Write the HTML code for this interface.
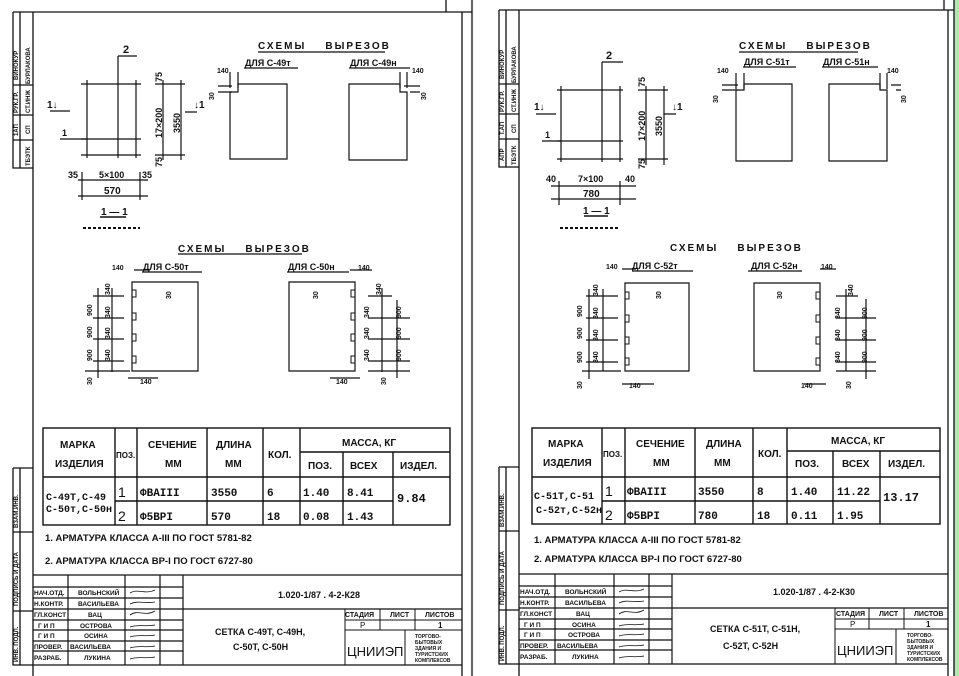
<!DOCTYPE html>
<html><head><meta charset="utf-8"><style>
body{margin:0;background:#fff}
svg{display:block}
text{font-family:"Liberation Sans",sans-serif;fill:#111}
.b{font-weight:bold}
.m{font-family:"Liberation Mono",monospace;font-weight:bold}
</style></head><body>
<svg width="959" height="676" viewBox="0 0 959 676" xmlns="http://www.w3.org/2000/svg" stroke="#111" fill="none">
<rect x="954" y="0" width="5" height="676" fill="#a6f0a6" stroke="none"/>

<!-- ================= LEFT SHEET ================= -->
<g stroke-width="1.3">
<line x1="13" y1="12" x2="472" y2="12"/>
<line x1="446" y1="0" x2="446" y2="12"/>
<line x1="33" y1="12" x2="33" y2="676"/>
<line x1="462" y1="12" x2="462" y2="676"/>
<line x1="472" y1="0" x2="472" y2="676"/>
<!-- side stamp top -->
<path d="M13 12V168H33M20 12V168M13 85H33M13 115H33M13 140H33"/>
<!-- side stamp bottom -->
<path d="M13 468H33M13 468V665H33M20 468V665M13 532H33M13 611H33"/>
</g>
<g font-size="6" class="b" stroke="none">
<text transform="translate(18,80) rotate(-90)">ВИНОКУР</text>
<text transform="translate(30,84) rotate(-90)">БУРЛАКОВА</text>
<text transform="translate(18,113) rotate(-90)">РУК.ГР.</text>
<text transform="translate(30,113) rotate(-90)">СТ.ИНЖ</text>
<text transform="translate(18,136) rotate(-90)">1АП</text>
<text transform="translate(30,134) rotate(-90)">СП</text>
<text transform="translate(30,166) rotate(-90)">ТБЭТК</text>
<text transform="translate(18,528) rotate(-90)">ВЗАМ.ИНВ.</text>
<text transform="translate(18,606) rotate(-90)">ПОДПИСЬ И ДАТА</text>
<text transform="translate(18,662) rotate(-90)">ИНВ. ПОДЛ.</text>
</g>

<!-- section drawing -->
<g stroke-width="1.2">
<path d="M81 84H141M81 139H141M81 155H141M87 80V158M118 56V158M136 80V158M118 56H137"/>
<path d="M60 139H87M50 111H70M185 112H197"/>
<path d="M163 80V160M181 80V160M155 84H185M155 155H185"/>
<path d="M82 172V200M140 172V200M78 180H148M78 196H148"/>
<path d="M100 217H126" stroke-width="1.5"/>
<path d="M83 228H140" stroke-width="2" stroke-dasharray="3 2"/>
</g>
<g class="b" stroke="none">
<text x="123" y="53" font-size="11">2</text>
<text x="62" y="136" font-size="9">1</text>
<text x="47" y="108" font-size="10">1↓</text>
<text x="194" y="108" font-size="10">↓1</text>
<text font-size="9" transform="translate(162,82) rotate(-90)">75</text>
<text font-size="9" transform="translate(162,138) rotate(-90)">17×200</text>
<text font-size="9" transform="translate(180,133) rotate(-90)">3550</text>
<text font-size="9" transform="translate(162,167) rotate(-90)">75</text>
<text x="68" y="178" font-size="9">35</text>
<text x="99" y="178" font-size="9">5×100</text>
<text x="142" y="178" font-size="9">35</text>
<text x="104" y="194" font-size="10">570</text>
<text x="101" y="215" font-size="10">1 — 1</text>
</g>

<!-- schemes top -->
<g class="b" stroke="none">
<text x="258" y="49" font-size="10" letter-spacing="2">СХЕМЫ&#160;&#160;&#160;&#160;ВЫРЕЗОВ</text>
<text x="245" y="66" font-size="9">ДЛЯ С-49т</text>
<text x="350" y="66" font-size="9">ДЛЯ С-49н</text>
<text x="217" y="73" font-size="7">140</text>
<text x="412" y="73" font-size="7">140</text>
<text font-size="7" transform="translate(214,100) rotate(-90)">30</text>
<text font-size="7" transform="translate(426,100) rotate(-90)">30</text>
</g>
<g stroke-width="1.2">
<path d="M258 52H385M244 68H298M349 68H410"/>
<path d="M230 92V159H287V84H238V92Z"/>
<path d="M349 84V160H407V92H400V84Z"/>
<path d="M230 72V88M238 72V88M400 72V88M407 72V88M218 86H232M218 92H232M420 86H404M420 92H410"/>
</g>

<!-- schemes bottom -->
<g class="b" stroke="none">
<text x="178" y="252" font-size="10" letter-spacing="2">СХЕМЫ&#160;&#160;&#160;&#160;ВЫРЕЗОВ</text>
<text x="143" y="270" font-size="9">ДЛЯ С-50т</text>
<text x="288" y="270" font-size="9">ДЛЯ С-50н</text>
<text x="112" y="270" font-size="7">140</text>
<text x="358" y="270" font-size="7">140</text>
<text x="140" y="384" font-size="7">140</text>
<text x="336" y="384" font-size="7">140</text>
<text font-size="7" transform="translate(171,299) rotate(-90)">30</text>
<text font-size="7" transform="translate(318,299) rotate(-90)">30</text>
<text font-size="7" transform="translate(92,385) rotate(-90)">30</text>
<text font-size="7" transform="translate(386,385) rotate(-90)">30</text>
<text font-size="7" transform="translate(92,361) rotate(-90)">900</text>
<text font-size="7" transform="translate(92,338) rotate(-90)">900</text>
<text font-size="7" transform="translate(92,316) rotate(-90)">900</text>
<text font-size="7" transform="translate(110,295) rotate(-90)">340</text>
<text font-size="7" transform="translate(110,318) rotate(-90)">340</text>
<text font-size="7" transform="translate(110,339) rotate(-90)">340</text>
<text font-size="7" transform="translate(110,361) rotate(-90)">340</text>
<text font-size="7" transform="translate(381,295) rotate(-90)">340</text>
<text font-size="7" transform="translate(369,318) rotate(-90)">340</text>
<text font-size="7" transform="translate(369,339) rotate(-90)">340</text>
<text font-size="7" transform="translate(369,361) rotate(-90)">340</text>
<text font-size="7" transform="translate(401,318) rotate(-90)">900</text>
<text font-size="7" transform="translate(401,339) rotate(-90)">900</text>
<text font-size="7" transform="translate(401,361) rotate(-90)">900</text>
</g>
<g stroke-width="1.2">
<path d="M178 254H302M142 272H202M287 272H349"/>
<path d="M132 282H198V371H132Z"/>
<path d="M289 282H355V371H289Z"/>
<path d="M132 290h4v7h-4M132 313h4v7h-4M132 334h4v7h-4M132 356h4v7h-4" stroke-width="1"/>
<path d="M355 290h-4v7h4M355 313h-4v7h4M355 334h-4v7h4M355 356h-4v7h4" stroke-width="1"/>
<path d="M93 296H124M93 318H124M93 339H124M93 361H124M85 371H130M98 288V378M112 288V372"/>
<path d="M368 296H392M368 318H410M368 339H410M368 361H410M368 371H410M382 288V372M397 300V378"/>
<path d="M128 378H158M330 378H360M134 270H150M350 270H372"/>
</g>

<!-- table -->
<g stroke-width="1.4">
<rect x="43" y="428" width="407" height="97"/>
<path d="M43 477H450M300 452H450M115 501H393M115 428V525M137 428V525M207 428V525M263 428V525M300 428V525M343 452V525M393 452V525"/>
</g>
<g class="b" font-size="10" stroke="none">
<text x="60" y="448">МАРКА</text>
<text x="55" y="467">ИЗДЕЛИЯ</text>
<text x="116" y="458" font-size="8">ПОЗ.</text>
<text x="148" y="448">СЕЧЕНИЕ</text>
<text x="165" y="467">ММ</text>
<text x="216" y="448">ДЛИНА</text>
<text x="225" y="467">ММ</text>
<text x="268" y="458">КОЛ.</text>
<text x="342" y="446">МАССА, КГ</text>
<text x="308" y="469">ПОЗ.</text>
<text x="350" y="469">ВСЕХ</text>
<text x="400" y="469">ИЗДЕЛ.</text>
<text x="46" y="500" font-size="10" class="m">С-49Т,С-49</text>
<text x="46" y="512" font-size="10" class="m">С-50т,С-50н</text>
<text x="118" y="497" font-size="14" font-weight="normal">1</text>
<text x="118" y="521" font-size="14" font-weight="normal">2</text>
<text x="140" y="496" class="m" font-size="11">ФВАIII</text>
<text x="140" y="520" class="m" font-size="11">Ф5ВРI</text>
<text x="211" y="496" class="m" font-size="11">3550</text>
<text x="211" y="520" class="m" font-size="11">570</text>
<text x="267" y="496" class="m" font-size="11">6</text>
<text x="267" y="520" class="m" font-size="11">18</text>
<text x="303" y="496" class="m" font-size="11">1.40</text>
<text x="303" y="520" class="m" font-size="11">0.08</text>
<text x="347" y="496" class="m" font-size="11">8.41</text>
<text x="347" y="520" class="m" font-size="11">1.43</text>
<text x="397" y="502" class="m" font-size="12">9.84</text>
<text x="45" y="541" font-size="9.5">1. АРМАТУРА КЛАССА А-III  ПО ГОСТ 5781-82</text>
<text x="45" y="564" font-size="9.5">2. АРМАТУРА КЛАССА ВР-I  ПО ГОСТ 6727-80</text>
</g>

<!-- stamp -->
<g stroke-width="1.2">
<path d="M33 575H462M33 665H462M33 587H183M33 598H183M33 609H462M33 620H183M33 630H183M33 641H183M33 651H183M68 575V665M125 575V665M160 575V665M183 575V665"/>
<path d="M345 609V665M345 620H462M345 630H462M380 609V630M415 609V630M405 630V665" stroke-width="1"/>
</g>
<g font-size="6.5" class="b" stroke="none">
<text x="34" y="595">НАЧ.ОТД.</text><text x="78" y="595">ВОЛЬНСКИЙ</text>
<text x="34" y="606">Н.КОНТР.</text><text x="78" y="606">ВАСИЛЬЕВА</text>
<text x="34" y="617">ГЛ.КОНСТ</text><text x="88" y="617">ВАЦ</text>
<text x="38" y="628">Г И П</text><text x="80" y="628">ОСТРОВА</text>
<text x="38" y="638">Г И П</text><text x="84" y="638">ОСИНА</text>
<text x="34" y="649">ПРОВЕР.</text><text x="70" y="649">ВАСИЛЬЕВА</text>
<text x="34" y="660">РАЗРАБ.</text><text x="84" y="660">ЛУКИНА</text>
<text x="345" y="617" font-size="7">СТАДИЯ</text>
<text x="390" y="617" font-size="7">ЛИСТ</text>
<text x="425" y="617" font-size="7">ЛИСТОВ</text>
<text x="360" y="628" font-size="8" font-weight="normal">Р</text>
<text x="438" y="628" font-size="8">1</text>
<text x="347" y="656" font-size="13" font-weight="normal">ЦНИИЭП</text>
<text x="415" y="638" font-size="5">ТОРГОВО-</text>
<text x="415" y="644" font-size="5">БЫТОВЫХ</text>
<text x="415" y="650" font-size="5">ЗДАНИЯ И</text>
<text x="415" y="656" font-size="5">ТУРИСТСКИХ</text>
<text x="415" y="662" font-size="5">КОМПЛЕКСОВ</text>
<text x="278" y="598" font-size="9">1.020-1/87 . 4-2-К28</text>
<text x="215" y="635" font-size="9">СЕТКА С-49Т, С-49Н,</text>
<text x="233" y="650" font-size="9">С-50Т, С-50Н</text>
</g>
<g stroke-width="0.8"><path d="M130 593c8-5 15 2 25-3M130 604c8-4 15 0 25-2M130 615c8-6 15 2 25-4M130 627c8-3 15 0 25-2M130 637c8-3 15 0 25-2M130 648c8-3 15 0 25-2M130 659c8-3 15 0 25-2"/></g>

<!-- ================= RIGHT SHEET ================= -->
<g transform="translate(486,-1)">
<g stroke-width="1.3">
<line x1="13" y1="11" x2="468" y2="11"/>
<line x1="458" y1="0" x2="458" y2="11"/>
<line x1="33" y1="11" x2="33" y2="677"/>
<line x1="462" y1="11" x2="462" y2="677"/>
<line x1="468" y1="0" x2="468" y2="677"/>
<path d="M13 11V168H33M20 11V168M13 85H33M13 115H33M13 140H33"/>
<path d="M13 468H33M13 468V665H33M20 468V665M13 532H33M13 611H33"/>
</g>
<g font-size="6" class="b" stroke="none">
<text transform="translate(18,80) rotate(-90)">ВИНОКУР</text>
<text transform="translate(30,84) rotate(-90)">БУРЛАКОВА</text>
<text transform="translate(18,113) rotate(-90)">РУК.ГР.</text>
<text transform="translate(30,113) rotate(-90)">СТ.ИНЖ</text>
<text transform="translate(18,136) rotate(-90)">Т.АП</text>
<text transform="translate(30,134) rotate(-90)">СП</text>
<text transform="translate(18,162) rotate(-90)">АПР</text>
<text transform="translate(30,166) rotate(-90)">ТБЭТК</text>
<text transform="translate(18,528) rotate(-90)">ВЗАМ.ИНВ.</text>
<text transform="translate(18,606) rotate(-90)">ПОДПИСЬ И ДАТА</text>
<text transform="translate(18,662) rotate(-90)">ИНВ. ПОДЛ.</text>
</g>
<g stroke-width="1.2">
<path d="M71 91H137M71 142H137M71 160H137M75 87V163M116 63V163M134 87V163M116 63H137"/>
<path d="M56 142H75M50 115H70M178 115H190"/>
<path d="M160 87V166M178 87V166M152 91H182M152 160H182"/>
<path d="M73 182V206M134 182V206M65 187H150M65 200H150"/>
<path d="M98 217H122" stroke-width="1.5"/>
<path d="M74 229H133" stroke-width="2" stroke-dasharray="3 2"/>
</g>
<g class="b" stroke="none">
<text x="120" y="60" font-size="11">2</text>
<text x="59" y="139" font-size="9">1</text>
<text x="48" y="111" font-size="10">1↓</text>
<text x="186" y="111" font-size="10">↓1</text>
<text font-size="9" transform="translate(159,88) rotate(-90)">75</text>
<text font-size="9" transform="translate(159,142) rotate(-90)">17×200</text>
<text font-size="9" transform="translate(176,137) rotate(-90)">3550</text>
<text font-size="9" transform="translate(159,170) rotate(-90)">75</text>
<text x="60" y="183" font-size="9">40</text>
<text x="92" y="183" font-size="9">7×100</text>
<text x="139" y="183" font-size="9">40</text>
<text x="97" y="198" font-size="10">780</text>
<text x="97" y="215" font-size="10">1 — 1</text>
</g>
<g class="b" stroke="none">
<text x="253" y="50" font-size="10" letter-spacing="2">СХЕМЫ&#160;&#160;&#160;&#160;ВЫРЕЗОВ</text>
<text x="258" y="66" font-size="9">ДЛЯ С-51т</text>
<text x="337" y="66" font-size="9">ДЛЯ С-51н</text>
<text x="231" y="74" font-size="7">140</text>
<text x="401" y="74" font-size="7">140</text>
<text font-size="7" transform="translate(232,104) rotate(-90)">30</text>
<text font-size="7" transform="translate(420,104) rotate(-90)">30</text>
</g>
<g stroke-width="1.2">
<path d="M253 53H372M257 68H310M336 68H392"/>
<path d="M250 91V162H306V85H258V91Z"/>
<path d="M343 85V162H401V91H394V85Z"/>
<path d="M250 74V90M258 74V90M394 74V90M401 74V90M236 86H252M236 91H252M415 86H405M415 91H410"/>
</g>
<g class="b" stroke="none">
<text x="184" y="252" font-size="10" letter-spacing="2">СХЕМЫ&#160;&#160;&#160;&#160;ВЫРЕЗОВ</text>
<text x="146" y="270" font-size="9">ДЛЯ С-52т</text>
<text x="265" y="270" font-size="9">ДЛЯ С-52н</text>
<text x="120" y="270" font-size="7">140</text>
<text x="335" y="270" font-size="7">140</text>
<text x="143" y="389" font-size="7">140</text>
<text x="315" y="389" font-size="7">140</text>
<text font-size="7" transform="translate(175,300) rotate(-90)">30</text>
<text font-size="7" transform="translate(296,300) rotate(-90)">30</text>
<text font-size="7" transform="translate(96,390) rotate(-90)">30</text>
<text font-size="7" transform="translate(365,390) rotate(-90)">30</text>
<text font-size="7" transform="translate(96,364) rotate(-90)">900</text>
<text font-size="7" transform="translate(96,340) rotate(-90)">900</text>
<text font-size="7" transform="translate(96,318) rotate(-90)">900</text>
<text font-size="7" transform="translate(112,297) rotate(-90)">340</text>
<text font-size="7" transform="translate(112,320) rotate(-90)">340</text>
<text font-size="7" transform="translate(112,342) rotate(-90)">340</text>
<text font-size="7" transform="translate(112,364) rotate(-90)">340</text>
<text font-size="7" transform="translate(367,297) rotate(-90)">340</text>
<text font-size="7" transform="translate(354,320) rotate(-90)">340</text>
<text font-size="7" transform="translate(354,342) rotate(-90)">340</text>
<text font-size="7" transform="translate(354,364) rotate(-90)">340</text>
<text font-size="7" transform="translate(381,320) rotate(-90)">900</text>
<text font-size="7" transform="translate(381,342) rotate(-90)">900</text>
<text font-size="7" transform="translate(381,364) rotate(-90)">900</text>
</g>
<g stroke-width="1.2">
<path d="M146 272H207M262 272H316"/>
<path d="M139 284H203V372H139Z"/>
<path d="M268 284H334V372H268Z"/>
<path d="M139 293h4v7h-4M139 316h4v7h-4M139 338h4v7h-4M139 359h4v7h-4" stroke-width="1"/>
<path d="M334 293h-4v7h4M334 316h-4v7h4M334 338h-4v7h4M334 359h-4v7h4" stroke-width="1"/>
<path d="M100 297H132M100 319H132M100 341H132M100 363H132M96 372H135M103 290V380M117 290V372"/>
<path d="M350 297H372M350 319H390M350 341H390M350 363H390M350 372H390M360 290V372M380 300V380"/>
<path d="M136 385H168M318 385H340M136 270H150M334 270H350"/>
</g>
<g stroke-width="1.4">
<rect x="46" y="429" width="408" height="96"/>
<path d="M46 478H454M301 452H454M116 502H394M116 429V525M139 429V525M209 429V525M267 429V525M301 429V525M347 452V525M394 452V525"/>
</g>
<g class="b" font-size="10" stroke="none">
<text x="62" y="448">МАРКА</text>
<text x="57" y="467">ИЗДЕЛИЯ</text>
<text x="117" y="458" font-size="8">ПОЗ.</text>
<text x="150" y="448">СЕЧЕНИЕ</text>
<text x="167" y="467">ММ</text>
<text x="220" y="448">ДЛИНА</text>
<text x="228" y="467">ММ</text>
<text x="272" y="458">КОЛ.</text>
<text x="345" y="445">МАССА, КГ</text>
<text x="309" y="468">ПОЗ.</text>
<text x="356" y="468">ВСЕХ</text>
<text x="402" y="468">ИЗДЕЛ.</text>
<text x="48" y="500" class="m">С-51Т,С-51</text>
<text x="50" y="514" class="m">С-52т,С-52н</text>
<text x="119" y="497" font-size="14" font-weight="normal">1</text>
<text x="119" y="521" font-size="14" font-weight="normal">2</text>
<text x="141" y="496" class="m" font-size="11">ФВАIII</text>
<text x="141" y="520" class="m" font-size="11">Ф5ВРI</text>
<text x="212" y="496" class="m" font-size="11">3550</text>
<text x="212" y="520" class="m" font-size="11">780</text>
<text x="271" y="496" class="m" font-size="11">8</text>
<text x="271" y="520" class="m" font-size="11">18</text>
<text x="305" y="496" class="m" font-size="11">1.40</text>
<text x="305" y="520" class="m" font-size="11">0.11</text>
<text x="351" y="496" class="m" font-size="11">11.22</text>
<text x="351" y="520" class="m" font-size="11">1.95</text>
<text x="397" y="502" class="m" font-size="12">13.17</text>
<text x="48" y="544" font-size="9.5">1. АРМАТУРА КЛАССА А-III ПО ГОСТ 5781-82</text>
<text x="48" y="563" font-size="9.5">2. АРМАТУРА КЛАССА ВР-I ПО ГОСТ 6727-80</text>
</g>
<g stroke-width="1.2">
<path d="M33 575H462M33 665H462M33 587H186M33 598H186M33 609H462M33 620H186M33 630H186M33 641H186M33 651H186M69 575V665M128 575V665M163 575V665M186 575V665"/>
<path d="M349 609V665M349 620H462M349 630H462M383 609V630M418 609V630M410 630V665" stroke-width="1"/>
</g>
<g font-size="6.5" class="b" stroke="none">
<text x="34" y="595">НАЧ.ОТД.</text><text x="79" y="595">ВОЛЬНСКИЙ</text>
<text x="34" y="606">Н.КОНТР.</text><text x="79" y="606">ВАСИЛЬЕВА</text>
<text x="34" y="617">ГЛ.КОНСТ</text><text x="90" y="617">ВАЦ</text>
<text x="38" y="628">Г И П</text><text x="86" y="628">ОСИНА</text>
<text x="38" y="638">Г И П</text><text x="82" y="638">ОСТРОВА</text>
<text x="34" y="649">ПРОВЕР.</text><text x="71" y="649">ВАСИЛЬЕВА</text>
<text x="34" y="660">РАЗРАБ.</text><text x="86" y="660">ЛУКИНА</text>
<text x="350" y="617" font-size="7">СТАДИЯ</text>
<text x="393" y="617" font-size="7">ЛИСТ</text>
<text x="428" y="617" font-size="7">ЛИСТОВ</text>
<text x="364" y="628" font-size="8" font-weight="normal">Р</text>
<text x="440" y="628" font-size="8">1</text>
<text x="351" y="656" font-size="13" font-weight="normal">ЦНИИЭП</text>
<text x="421" y="638" font-size="5">ТОРГОВО-</text>
<text x="421" y="644" font-size="5">БЫТОВЫХ</text>
<text x="421" y="650" font-size="5">ЗДАНИЯ И</text>
<text x="421" y="656" font-size="5">ТУРИСТСКИХ</text>
<text x="421" y="662" font-size="5">КОМПЛЕКСОВ</text>
<text x="287" y="596" font-size="9">1.020-1/87 . 4-2-К30</text>
<text x="224" y="633" font-size="9">СЕТКА С-51Т, С-51Н,</text>
<text x="237" y="650" font-size="9">С-52Т, С-52Н</text>
</g>
<g stroke-width="0.8"><path d="M133 593c8-5 15 2 25-3M133 604c8-4 15 0 25-2M133 615c8-6 15 2 25-4M133 627c8-3 15 0 25-2M133 637c8-3 15 0 25-2M133 648c8-3 15 0 25-2M133 659c8-3 15 0 25-2"/></g>
</g>
</svg>
</body></html>
